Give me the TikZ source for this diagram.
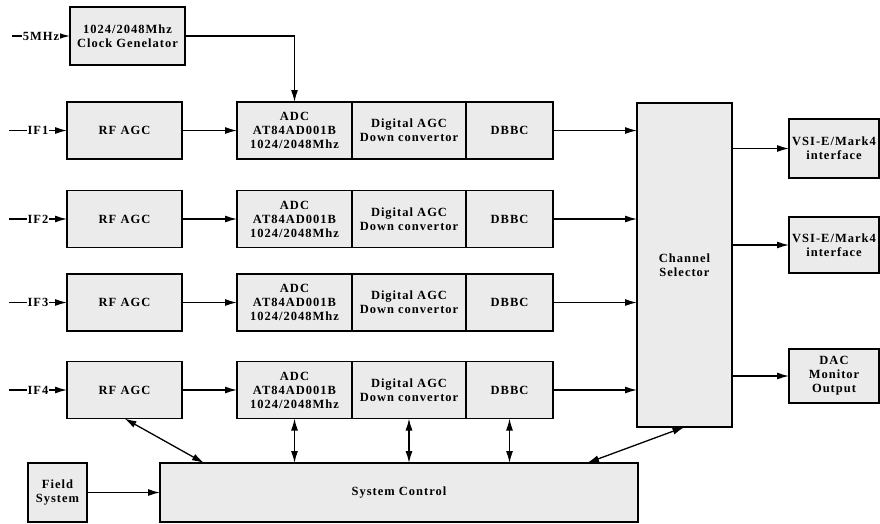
\documentclass[tikz,border=0pt]{standalone}
\usepackage{fontspec}
\setmainfont{Liberation Serif}[LetterSpace=8]
\usetikzlibrary{arrows.meta,positioning}
\definecolor{boxgray}{HTML}{EBEBEB}

\tikzset{
  blk/.style={draw,line width=1.3pt,fill=boxgray,inner sep=1pt,outer sep=0pt,
    align=center,minimum height=57pt},
  arr/.style={line width=1.3pt,-{Latex[length=12pt,width=7pt]}},
  biarr/.style={line width=1.3pt,{Latex[length=12pt,width=7pt]}-{Latex[length=12pt,width=7pt]}},
  inlbl/.style={fill=white,inner sep=1pt}
}

\begin{document}
\begin{tikzpicture}[x=1pt,y=-1pt,font=\fontsize{12.5}{14}\selectfont\bfseries]
  \useasboundingbox (0,0) rectangle (880,523);
  % clock
  \node[blk,minimum width=115pt,minimum height=58pt] (clkgen) at (127.5,36)
    {1024/2048Mhz\\Clock Genelator};
  \coordinate (clkin) at (12,36);
  \draw[arr] (clkin) -- node[inlbl]{5MHz} (clkgen);
  % selector and outputs
  \node[blk,minimum width=95pt,minimum height=324pt] (chsel) at (684.5,265)
    {Channel\\Selector};
  \node[blk,minimum width=90pt,minimum height=59pt] (vsi1) at (834,148.5)
    {VSI-E/Mark4\\interface};
  \node[blk,minimum width=90pt,minimum height=56pt] (vsi2) at (834,245)
    {VSI-E/Mark4\\interface};
  \node[blk,minimum width=90pt,minimum height=54pt] (dac) at (834,376)
    {DAC\\Monitor\\Output};
  \foreach \o in {vsi1,vsi2,dac}
    \draw[arr] (chsel.east |- \o) -- (\o);
  % channels
  \foreach \i/\y in {1/130.5,2/219,3/302.5,4/390}{
    \node[blk,minimum width=115pt] (rfagc\i) at (124.5,\y) {RF AGC};
    \node[blk,minimum width=115pt] (adc\i) at (294.5,\y)
      {ADC\\AT84AD001B\\1024/2048Mhz};
    \node[blk,minimum width=114pt,right=0pt of adc\i] (dagc\i)
      {Digital AGC\\Down convertor};
    \node[blk,minimum width=87pt,right=0pt of dagc\i] (dbbc\i) {DBBC};
    \coordinate (if\i) at (9,\y);
    \draw[arr] (if\i) -- node[inlbl]{IF\i} (rfagc\i);
    \draw[arr] (rfagc\i) -- (adc\i);
    \draw[arr] (dbbc\i) -- (dbbc\i -| chsel.west);
  }
  \draw[arr] (clkgen.east) -| (adc1.north);
  % control
  \node[blk,minimum width=478pt,minimum height=59pt] (sysctl) at (399,492.5)
    {System Control};
  \node[blk,minimum width=59pt,minimum height=59pt] (fieldsys) at (57.5,492.5)
    {Field\\System};
  \draw[arr] (fieldsys) -- (sysctl);
  \draw[biarr] (rfagc4.south) -- ([xshift=44pt]sysctl.north west);
  \foreach \b in {adc4,dagc4,dbbc4}
    \draw[biarr] (\b.south) -- (\b.south |- sysctl.north);
  \draw[biarr] (chsel.south) -- ([xshift=-51pt]sysctl.north east);
\end{tikzpicture}
\end{document}
